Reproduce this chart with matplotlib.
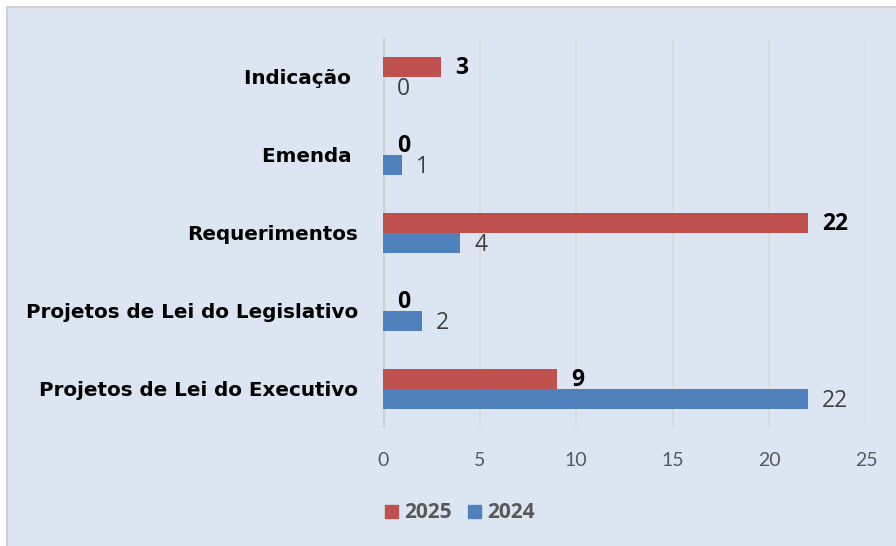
import numpy as np
import matplotlib.pyplot as plt
from matplotlib.patches import Rectangle, Patch

categorias = ['Projetos de Lei do Executivo', 'Projetos de Lei do Legislativo',
              'Requerimentos', 'Emenda ', 'Indicação ']
v2025 = [9, 0, 22, 0, 3]
v2024 = [22, 2, 4, 1, 0]
xticks = [0, 5, 10, 15, 20, 25]

fundo = '#dce6f2'
vermelho = '#c0504d'
azul = '#4f81bd'

fig = plt.figure(figsize=(8.96, 5.46), dpi=100)
fig.patch.set_facecolor('white')
fig.patches.append(Rectangle((7/896, -0.1), 1.1, 1.1 - 7/546, transform=fig.transFigure,
                             facecolor=fundo, edgecolor='#d0d0d0', linewidth=1.5, zorder=-10))

ax = fig.add_axes([383/896, 1 - 428/546, 483/896, 390/546])
ax.set_facecolor('none')

y = np.arange(len(categorias))
h = 0.26
ax.barh(y + h/2, v2025, height=h, color=vermelho, label='2025', zorder=3)
ax.barh(y - h/2, v2024, height=h, color=azul, label='2024', zorder=3)

for i in range(len(categorias)):
    ax.annotate(str(v2025[i]), (v2025[i], y[i] + h/2), xytext=(10, -1), textcoords='offset points',
                va='center', ha='left', fontsize=16.5, fontweight='bold', color='black', family='Open Sans')
    ax.annotate(str(v2024[i]), (v2024[i], y[i] - h/2), xytext=(10, -1), textcoords='offset points',
                va='center', ha='left', fontsize=16.5, color='#404040', family='Open Sans')

ax.set_xlim(0, 25)
ax.set_ylim(-0.5, len(categorias) - 0.5)
ax.set_xticks(xticks)
ax.set_xticklabels([str(t) for t in xticks], fontsize=14, color='#595959', family='Lato')
ax.set_yticks(y)
ax.set_yticklabels(categorias, fontsize=14.3, fontweight='bold', color='black', family='DejaVu Sans')
ax.tick_params(axis='both', length=0)
ax.tick_params(axis='x', pad=17.5)
ax.tick_params(axis='y', pad=18)
for s in ax.spines.values():
    s.set_visible(False)
ax.grid(axis='x', color='#d9d9d9', linewidth=1.2, zorder=0)
ax.axvline(0, color='#cfcfcf', linewidth=2.5, zorder=2)

handles = [Patch(color=vermelho, label='2025'), Patch(color=azul, label='2024')]
fig.legend(handles=handles, loc='center', bbox_to_anchor=(460/896, 1 - 513/546), ncol=2,
           frameon=False, prop={'family': 'Open Sans', 'weight': 'bold', 'size': 15},
           labelcolor='#595959', handlelength=0.6, handleheight=0.6, handletextpad=0.3,
           columnspacing=0.8)

fig.savefig('out.png', dpi=100, facecolor=fig.get_facecolor())
